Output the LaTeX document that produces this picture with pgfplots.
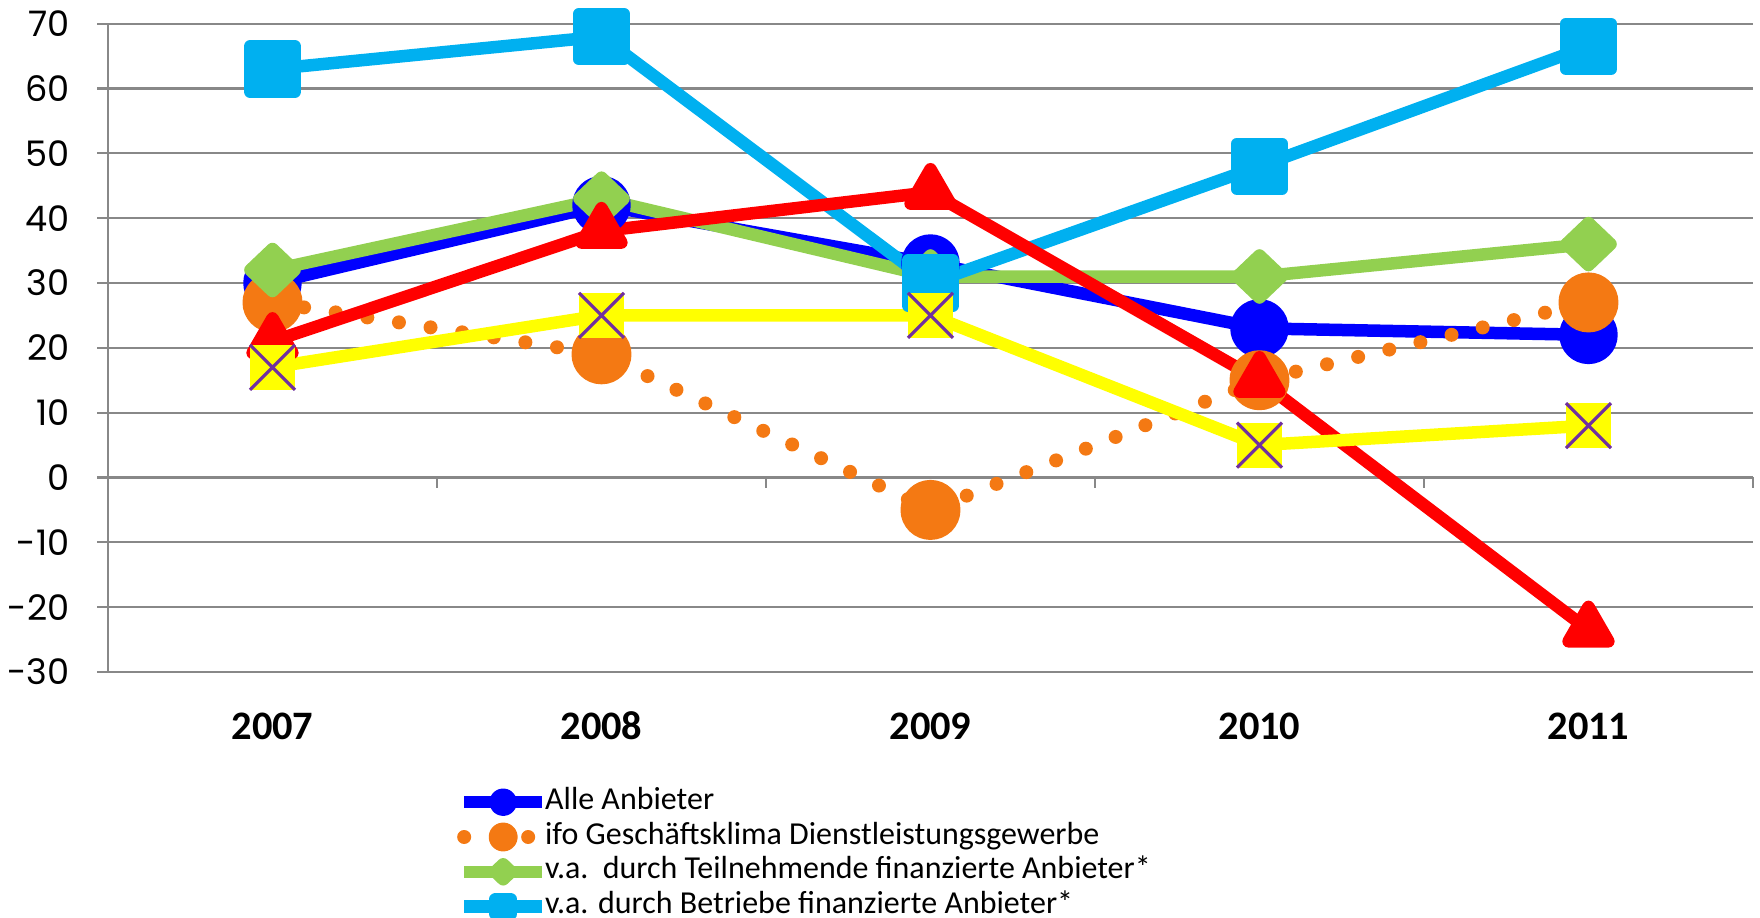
\documentclass[border=0pt]{standalone}
\usepackage{fontspec}
\setmainfont{Carlito}
\newfontfamily\tickfont{Poppins}
\usepackage{pgfplots}
\pgfplotsset{compat=1.18}
\definecolor{gridgray}{RGB}{136,136,136}
\definecolor{cblue}{RGB}{0,0,255}
\definecolor{corange}{RGB}{244,121,19}
\definecolor{cgreen}{RGB}{146,208,80}
\definecolor{ccyan}{RGB}{0,176,240}
\definecolor{cred}{RGB}{255,0,0}
\definecolor{cyellow}{RGB}{255,255,0}
\definecolor{xpurple}{RGB}{112,48,160}

% yellow square with purple cross
\pgfdeclareplotmark{sqx}{%
  \pgfpathrectangle{\pgfqpoint{-\pgfplotmarksize}{-\pgfplotmarksize}}{\pgfqpoint{2\pgfplotmarksize}{2\pgfplotmarksize}}%
  \pgfusepath{fill}%
  \pgfsetstrokecolor{xpurple}\pgfsetlinewidth{0.9pt}%
  \pgfpathmoveto{\pgfqpoint{-\pgfplotmarksize}{-\pgfplotmarksize}}\pgfpathlineto{\pgfqpoint{\pgfplotmarksize}{\pgfplotmarksize}}%
  \pgfpathmoveto{\pgfqpoint{-\pgfplotmarksize}{\pgfplotmarksize}}\pgfpathlineto{\pgfqpoint{\pgfplotmarksize}{-\pgfplotmarksize}}%
  \pgfusepath{stroke}}

\begin{document}
\begin{tikzpicture}
\useasboundingbox (-10.8mm,-24.5mm) rectangle (165.2mm,67.2mm);
\begin{axis}[
  at={(0,0)}, anchor=south west,
  scale only axis, width=164.5mm, height=64.84mm,
  xmin=-0.5, xmax=4.5, ymin=-30, ymax=70,
  ytick={-30,-20,...,70},
  xtick={0,1,2,3,4}, xticklabels={2007,2008,2009,2010,2011},
  axis y line*=left, axis x line*=bottom,
  axis line style={-, draw=gridgray, line width=0.6pt},
  x axis line style={draw=none},
  ymajorgrids, grid style={gridgray, line width=0.6pt},
  major tick length=0pt,
  /pgf/number format/assume math mode=true,
  yticklabel style={font=\tickfont\fontsize{10}{12}\selectfont, xshift=-2.6mm},
  xticklabel style={font=\bfseries\fontsize{11.5}{14}\selectfont, anchor=north,
    text height=2.9mm, text depth=0pt, yshift=-2.6mm},
  clip=false,
  line join=round,
  legend cell align=left,
  legend style={at={(rel axis cs:0.2161,-0.1735)}, anchor=north west,
    draw=none, fill=none, inner sep=0pt, row sep=0.08mm,
    font=\fontsize{9.1}{11}\selectfont,
    nodes={inner xsep=0.1mm, inner ysep=0.3mm, text height=2.1mm, text depth=0.7mm}},
  legend image code/.code={%
    \path[use as bounding box, draw=none, fill=none] (0mm,-0.5mm) rectangle (8.0mm,0.5mm);
    \draw[mark repeat=2, mark phase=2, #1, mark size=0.75mm]
      plot coordinates {(0mm,0mm) (3.9mm,0mm) (7.8mm,0mm)};},
]
\addplot[cblue, line width=1.25mm, mark=*, mark size=2.3mm, mark options={solid}]
  coordinates {(0,30) (1,42) (2,33) (3,23) (4,22)};
\addlegendentry{Alle Anbieter}
\addplot[corange, line width=1.4mm, line cap=round, dash pattern=on 0pt off 3.2mm,
  mark=*, mark size=2.3mm, mark options={solid}]
  coordinates {(0,27) (1,19) (2,-5) (3,15) (4,27)};
\addlegendentry{ifo Geschäftsklima Dienstleistungsgewerbe}
\addplot[cgreen, line width=1.25mm, mark=diamond*, mark size=2.1mm, mark options={solid, xscale=1.4}]
  coordinates {(0,32) (1,43) (2,31) (3,31) (4,36)};
\addlegendentry{v.a.\ \ durch Teilnehmende finanzierte Anbieter*}
\addplot[ccyan, line width=1.25mm, mark=square*, mark size=2.25mm, mark options={solid}]
  coordinates {(0,63) (1,68) (2,30) (3,48) (4,66.5)};
\addlegendentry{v.a. durch Betriebe finanzierte Anbieter*}
\addplot[cred, line width=1.25mm, mark=triangle*, mark size=2.3mm, mark options={solid}, forget plot]
  coordinates {(0,21) (1,38) (2,44) (3,15) (4,-23.5)};
\addplot[cyellow, line width=1.25mm, mark=sqx, mark size=2.25mm, mark options={solid, fill=cyellow}, forget plot]
  coordinates {(0,17) (1,25) (2,25) (3,5) (4,8)};
% tick stubs: left of the y axis and below the zero line
\pgfplotsinvokeforeach{-30,-20,...,70}{%
  \draw[gridgray, line width=0.6pt] (axis cs:-0.5,#1) -- ([xshift=-1.1mm]axis cs:-0.5,#1);}
\pgfplotsinvokeforeach{0.5,1.5,2.5,3.5,4.5}{%
  \draw[gridgray, line width=0.6pt] (axis cs:#1,0) -- ([yshift=-1.1mm]axis cs:#1,0);}
\end{axis}
\end{tikzpicture}
\end{document}
